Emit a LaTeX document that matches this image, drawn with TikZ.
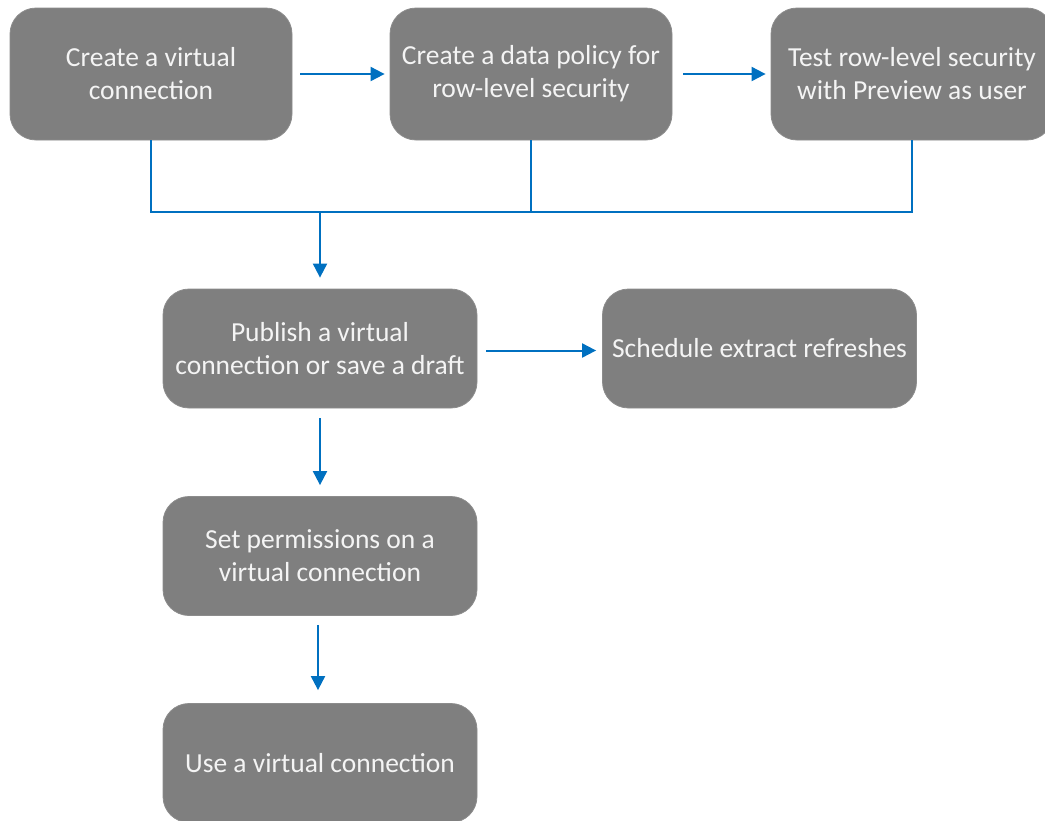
\documentclass[tikz,border=0pt]{standalone}
\usepackage{fontspec}
\setmainfont{Carlito}
\usetikzlibrary{arrows.meta}
\definecolor{boxgray}{HTML}{7F7F7F}
\definecolor{boxedge}{HTML}{8C8C8C}
\definecolor{txtwhite}{HTML}{F4F4F4}
\definecolor{arrblue}{HTML}{0070C0}
\tikzset{
  stepbox/.style={draw=boxedge, line width=0.8pt, fill=boxgray, rounded corners=26pt,
    text=txtwhite, align=center, inner sep=0pt,
    font=\fontsize{27.5}{33}\selectfont},
  topbox/.style={stepbox, minimum width=282pt, minimum height=132pt},
  midbox/.style={stepbox, minimum width=314pt, minimum height=119pt},
  link/.style={draw=arrblue, line width=2pt},
  arr/.style={link, -{Triangle[length=14pt,width=14pt]}}
}
\begin{document}
\begin{tikzpicture}[x=1pt,y=-1pt]
\useasboundingbox (0,0) rectangle (1045,820);
\node[topbox] (b1) at (151,74) {Create a virtual\\connection};
\node[topbox] (b2) at (531,74) {Create a data policy for\\row-level security};
\node[topbox] (b3) at (912,74) {Test row-level security\\with Preview as user};
\node[midbox] (b4) at (320,348.5) {Publish a virtual\\connection or save a draft};
\node[midbox] (b5) at (759.5,348.5) {Schedule extract refreshes};
\node[midbox] (b6) at (320,556) {Set permissions on a\\virtual connection};
\node[midbox] (b7) at (320,763) {Use a virtual connection};
\coordinate (j) at (320,212);
\draw[arr] ([xshift=8pt]b1.east) -- ([xshift=-5pt]b2.west);
\draw[arr] ([xshift=11pt]b2.east) -- ([xshift=-5pt]b3.west);
\draw[link] (b1.south) -- (b1.south |- j) -| (b3.south);
\draw[link] (b2.south) -- (b2.south |- j);
\draw[arr] (j) -- ([yshift=11pt]b4.north);
\draw[arr] ([xshift=9pt,yshift=-2pt]b4.east) -- ([xshift=-6pt,yshift=-2pt]b5.west);
\draw[arr] ([yshift=-10pt]b4.south) -- ([yshift=11pt]b6.north);
\draw[arr] ([xshift=-2pt,yshift=-9pt]b6.south) -- ([xshift=-2pt,yshift=13pt]b7.north);
\end{tikzpicture}
\end{document}
